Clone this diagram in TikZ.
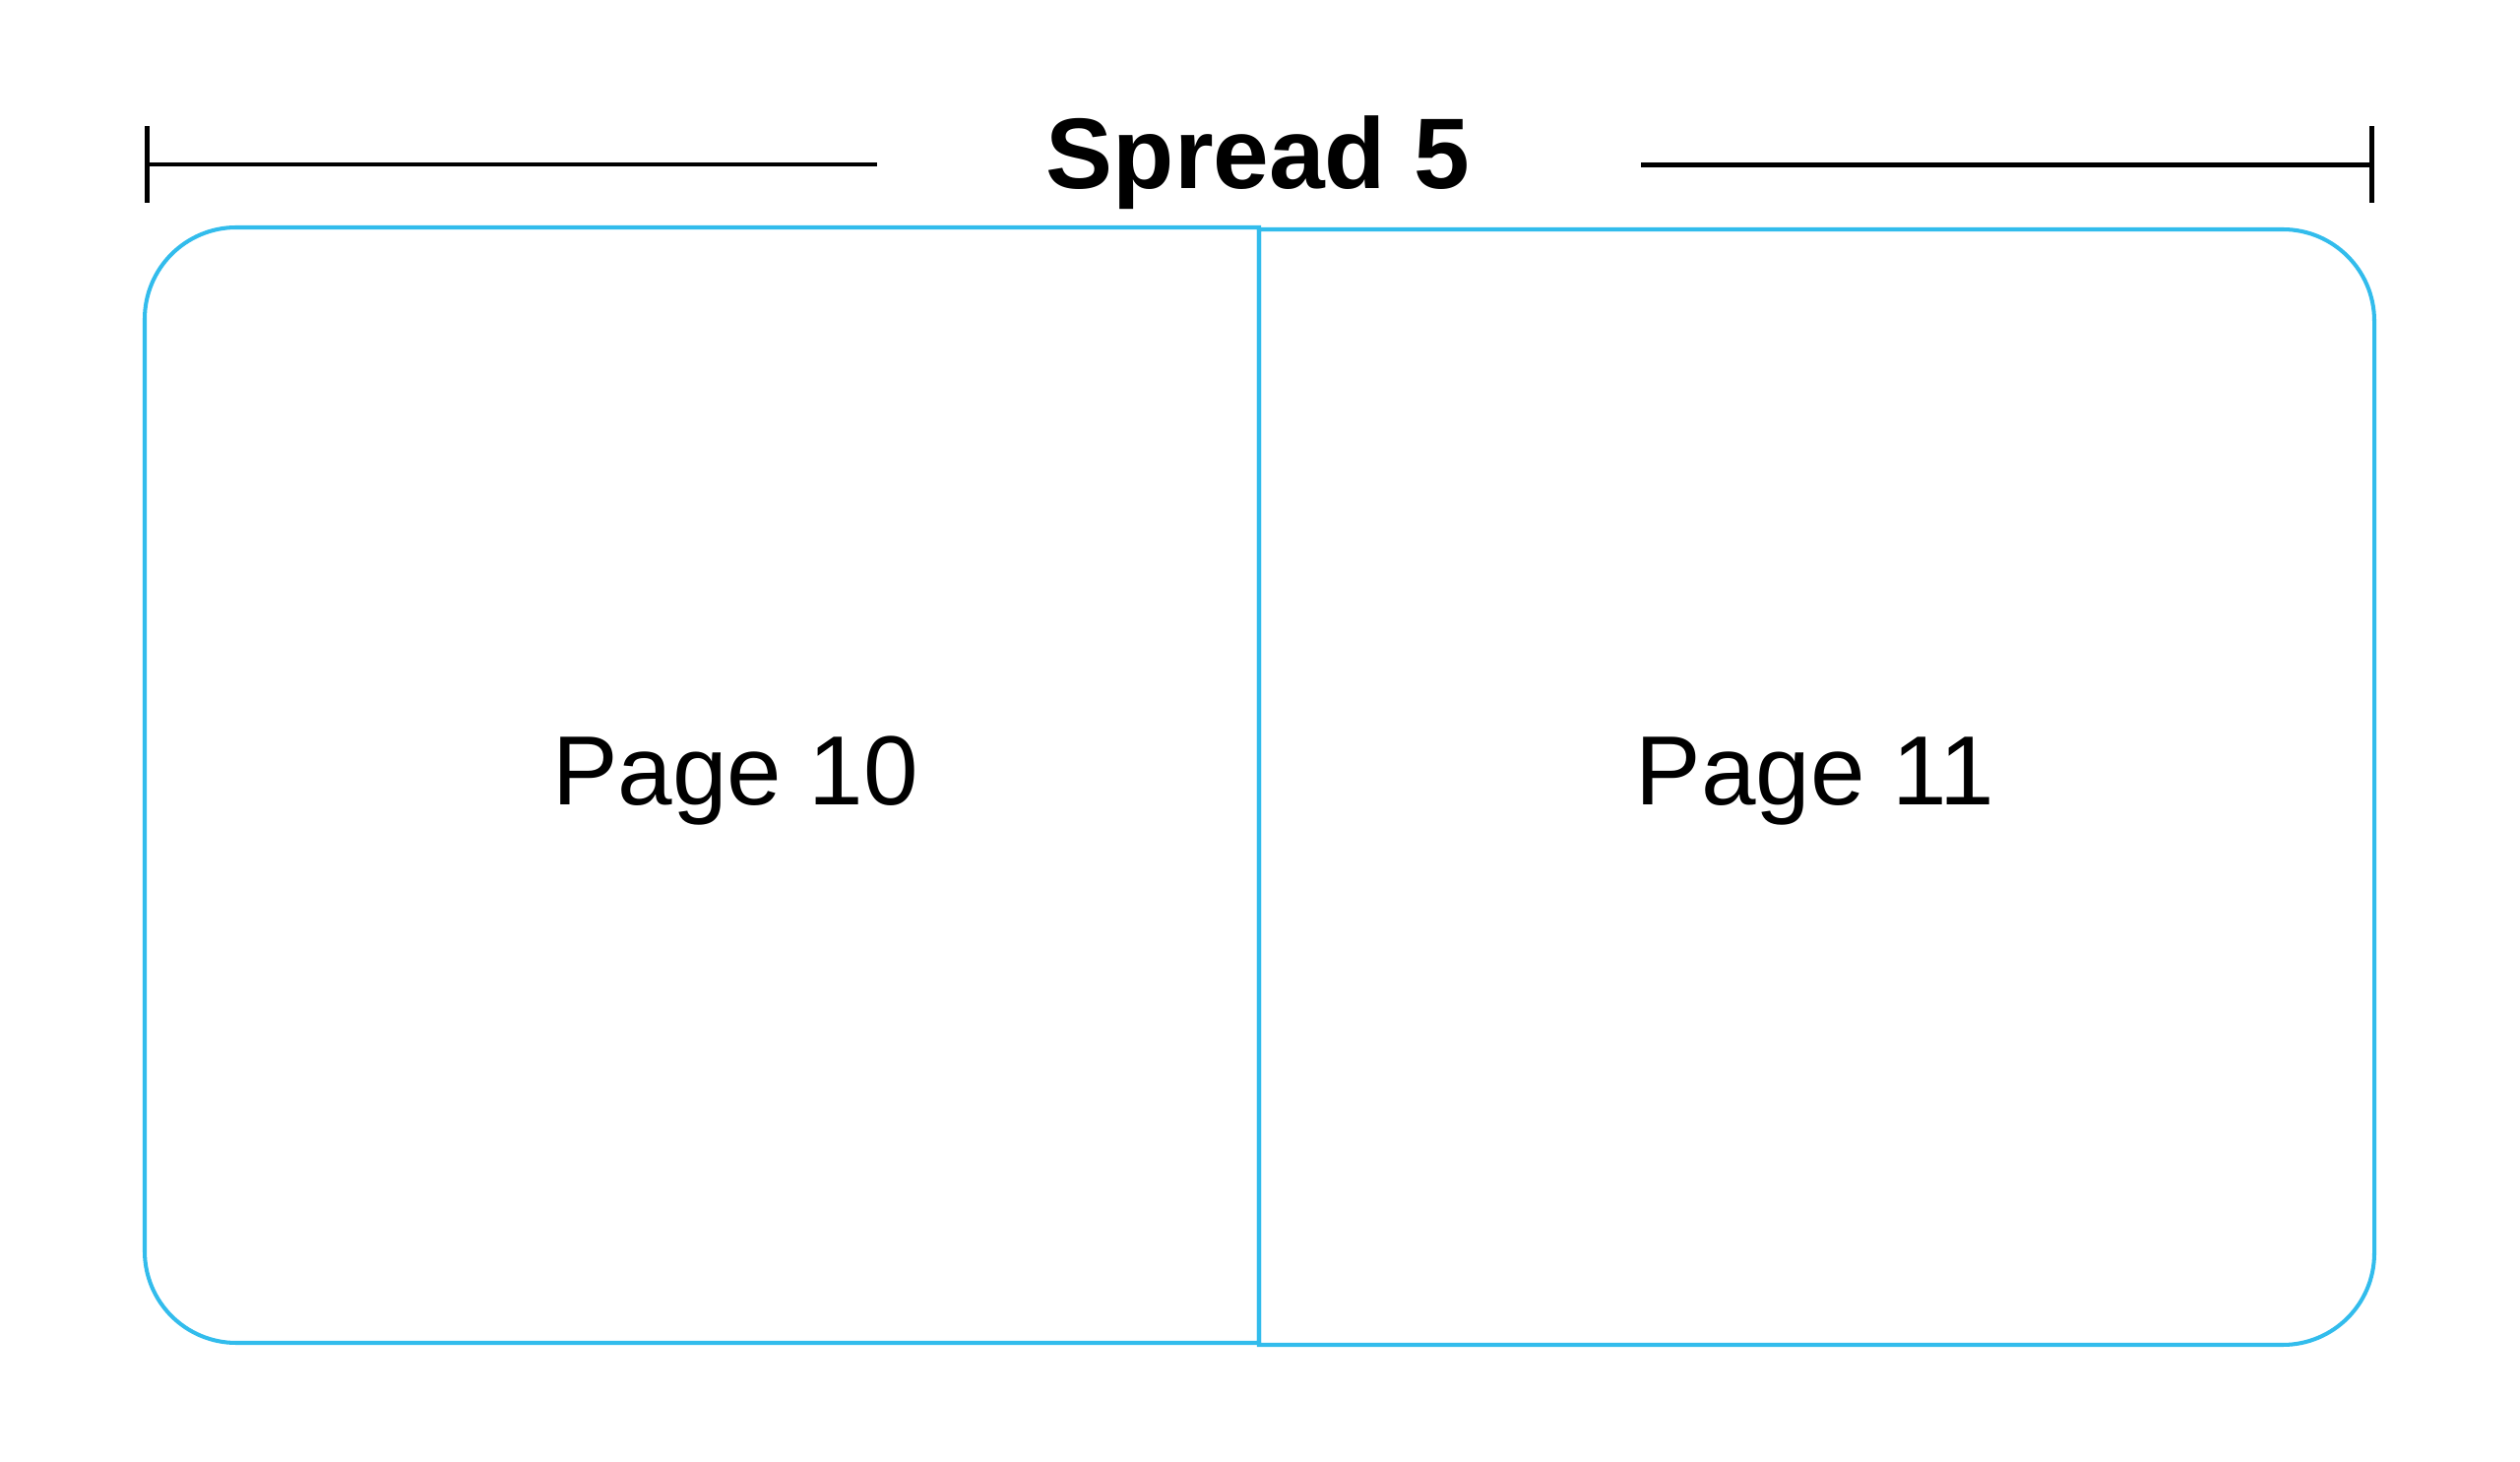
\documentclass[tikz,border=0pt]{standalone}
\usepackage{fontspec}
\setmainfont{Liberation Sans}
\usetikzlibrary{arrows.meta}

\definecolor{celeste}{RGB}{50,188,236}

\tikzstyle{pagina}= [draw=celeste,line width=1.15pt]
\tikzstyle{cota}= [draw=black,line width=1.4pt]
\tikzstyle{titulo}= [anchor=base,inner sep=0pt,font=\fontsize{29pt}{32pt}\selectfont\bfseries]
\tikzstyle{numero}= [anchor=base,inner sep=0pt,font=\fontsize{28.4pt}{31pt}\selectfont]

\begin{document}
\begin{tikzpicture}

		\useasboundingbox (0,0) rectangle (25.6,-14.85);

		\node (t) at (12.78,-1.92) [titulo] {Spread 5};

		\coordinate (c1) at (1.47,-1.67);
		\coordinate (c2) at (8.91,-1.67);
		\coordinate (c3) at (16.67,-1.675);
		\coordinate (c4) at (24.12,-1.675);

		\path[cota] (c1) edge[{Bar[width=7.8mm]}-] node {} (c2);
		\path[cota] (c3) edge[-{Bar[width=7.8mm]}] node {} (c4);

		\draw[pagina] (12.79,-2.31) -- (2.40,-2.31) arc[start angle=90,end angle=180,radius=0.93]
			-- (1.47,-12.71) arc[start angle=180,end angle=270,radius=0.93] -- (12.79,-13.64) -- cycle;
		\draw[pagina] (12.79,-2.33) -- (23.19,-2.33) arc[start angle=90,end angle=0,radius=0.93]
			-- (24.12,-12.73) arc[start angle=0,end angle=-90,radius=0.93] -- (12.79,-13.66) -- cycle;

		\node (p10) at (7.47,-8.18) [numero] {Page 10};
		\node (p11) at (18.44,-8.18) [numero] {Page 11};

	\end{tikzpicture}
\end{document}
